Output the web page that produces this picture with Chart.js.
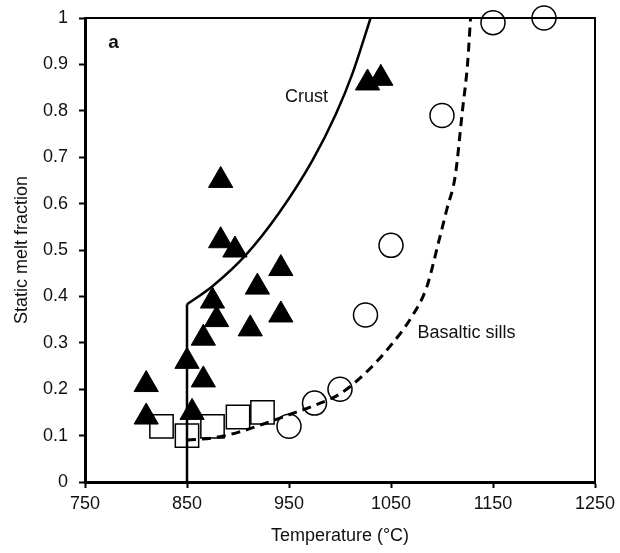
<!DOCTYPE html>
<html>
<head>
<meta charset="utf-8">
<script src="https://cdn.jsdelivr.net/npm/chart.js@4.4.1/dist/chart.umd.min.js"></script>
<style>
  html, body { margin: 0; padding: 0; background: #fff; }
  #wrap { width: 620px; height: 553px; }
</style>
</head>
<body>
<div id="wrap"><canvas id="meltChart"></canvas></div>
<script>
// measured data (filled triangles)
const triTemp = [810, 810, 850, 855, 866, 866, 879, 875, 883, 883, 897, 912, 919, 942, 942, 1027, 1040];
const triFrac = [0.21, 0.14, 0.26, 0.15, 0.22, 0.31, 0.35, 0.39, 0.65, 0.52, 0.50, 0.33, 0.42, 0.36, 0.46, 0.86, 0.87];

// open squares
const sqTemp = [825, 850, 875, 900, 924];
const sqFrac = [0.12, 0.10, 0.12, 0.14, 0.15];

// open circles
const circTemp = [950, 975, 1000, 1025, 1050, 1100, 1150, 1200];
const circFrac = [0.12, 0.17, 0.20, 0.36, 0.51, 0.79, 0.99, 1.00];

// crust melting curve (vertical stem + curve)
const stemTemp = [850, 850];
const stemFrac = [0, 0.383];
const crustTemp = [850, 875, 908, 940, 973, 996, 1012, 1030];
const crustFrac = [0.383, 0.422, 0.49, 0.579, 0.693, 0.793, 0.879, 1.0];

// basaltic sills curve
const sillTemp = [850, 875, 900, 925, 950, 975, 1000, 1025, 1050, 1070, 1085, 1097, 1105, 1113, 1120, 1125, 1128];
const sillFrac = [0.09, 0.095, 0.107, 0.125, 0.145, 0.165, 0.19, 0.235, 0.295, 0.355, 0.42, 0.52, 0.59, 0.66, 0.80, 0.90, 1.0];

const xTicks = [750, 850, 950, 1050, 1150, 1250];

function pts(xs, ys) {
    return xs.map((x, i) => ({ x: x, y: ys[i] }));
}

const FONT = "'Liberation Sans', Arial, sans-serif";

const extras = {
    id: "extras",
    afterDatasetsDraw(chart) {
        const { ctx, chartArea: a, scales } = chart;
        ctx.save();
        ctx.strokeStyle = "#000";
        ctx.lineWidth = 2;
        ctx.strokeRect(a.left, a.top, a.right - a.left, a.bottom - a.top);
        ctx.fillStyle = "#111";
        ctx.textBaseline = "middle";
        ctx.font = "bold 19px " + FONT;
        ctx.textAlign = "center";
        ctx.fillText("a", scales.x.getPixelForValue(778), scales.y.getPixelForValue(0.947));
        ctx.font = "18px " + FONT;
        ctx.textAlign = "left";
        ctx.fillText("Crust", scales.x.getPixelForValue(946), scales.y.getPixelForValue(0.829));
        ctx.fillText("Basaltic sills", scales.x.getPixelForValue(1076), scales.y.getPixelForValue(0.322));
        ctx.restore();
    }
};

const chart = new Chart(document.getElementById("meltChart").getContext("2d"), {
    type: "scatter",
    data: {
        datasets: [
            {
                data: pts(triTemp, triFrac),
                pointStyle: "triangle",
                pointRadius: 14,
                backgroundColor: "#000",
                borderColor: "#000",
                borderWidth: 1,
                order: 0,
                clip: false
            },
            {
                data: pts(stemTemp, stemFrac),
                showLine: true,
                pointRadius: 0,
                borderColor: "#000",
                borderWidth: 2.5,
                order: 1
            },
            {
                data: pts(crustTemp, crustFrac),
                showLine: true,
                cubicInterpolationMode: "monotone",
                pointRadius: 0,
                borderColor: "#000",
                borderWidth: 2.5,
                order: 1
            },
            {
                data: pts(sillTemp, sillFrac),
                showLine: true,
                cubicInterpolationMode: "monotone",
                pointRadius: 0,
                borderColor: "#000",
                borderWidth: 3,
                borderDash: [9, 6],
                order: 1
            },
            {
                data: pts(sqTemp, sqFrac),
                pointStyle: "rect",
                pointRadius: 16.5,
                backgroundColor: "#fff",
                borderColor: "#000",
                borderWidth: 1.5,
                order: 2,
                clip: false
            },
            {
                data: pts(circTemp, circFrac),
                pointStyle: "circle",
                pointRadius: 12,
                backgroundColor: "#fff",
                borderColor: "#000",
                borderWidth: 1.5,
                order: 2,
                clip: false
            }
        ]
    },
    options: {
        responsive: true,
        maintainAspectRatio: false,
        animation: false,
        layout: { padding: { top: 15, right: 25, left: 0, bottom: 0 } },
        plugins: {
            legend: { display: false },
            tooltip: { enabled: false }
        },
        scales: {
            x: {
                type: "linear",
                min: 750,
                max: 1250,
                afterBuildTicks: (scale) => { scale.ticks = xTicks.map(v => ({ value: v })); },
                afterFit: (scale) => {
                    scale.height = 71;
                    scale.paddingLeft = 0;
                    scale.paddingRight = 0;
                },
                grid: { drawOnChartArea: false, drawTicks: true, tickLength: 6, tickColor: "#000", tickWidth: 2 },
                border: { display: true, color: "#000", width: 3 },
                ticks: {
                    color: "#111",
                    font: { family: FONT, size: 18 },
                    padding: 5,
                    maxRotation: 0,
                    callback: (v) => String(v)
                },
                title: { display: true, text: "Temperature (°C)", color: "#111", font: { family: FONT, size: 18 }, padding: { top: 4, bottom: 6 } }
            },
            y: {
                min: 0,
                max: 1,
                afterFit: (scale) => {
                    scale.width = 85;
                    scale.paddingTop = 0;
                    scale.paddingBottom = 0;
                },
                grid: { drawOnChartArea: false, drawTicks: true, tickLength: 6, tickColor: "#000", tickWidth: 2 },
                border: { display: true, color: "#000", width: 3 },
                ticks: {
                    stepSize: 0.1,
                    color: "#111",
                    font: { family: FONT, size: 18 },
                    padding: 11,
                    callback: (v) => String(+v.toFixed(1))
                },
                title: { display: true, text: "Static melt fraction", color: "#111", font: { family: FONT, size: 18 }, padding: { top: 11, bottom: 4 } }
            }
        }
    },
    plugins: [extras]
});
</script>
</body>
</html>
